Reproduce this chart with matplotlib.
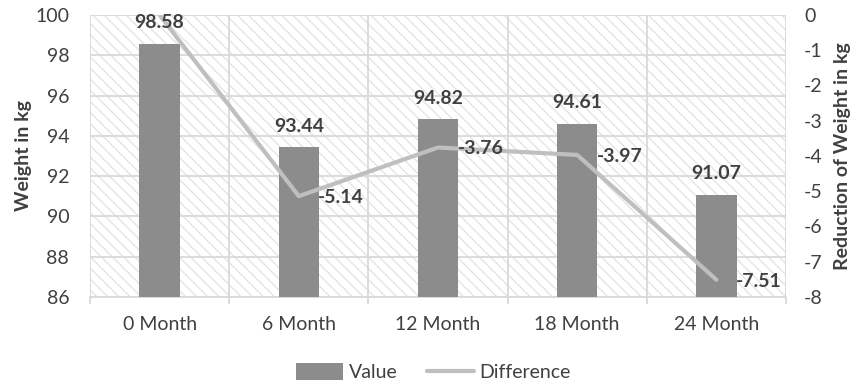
import matplotlib
matplotlib.use('Agg')
import matplotlib.pyplot as plt
import numpy as np

# weight at each check-up and change relative to the start
months = ['0 Month', '6 Month', '12 Month', '18 Month', '24 Month']
weight = [98.58, 93.44, 94.82, 94.61, 91.07]
difference = [0, -5.14, -3.76, -3.97, -7.51]

plt.rcParams['font.family'] = ['Lato', 'DejaVu Sans']
plt.rcParams['hatch.linewidth'] = 0.9
plt.rcParams['axes.unicode_minus'] = False

txt = '#404040'
grid = '#d9d9d9'
fs = 14

fig = plt.figure(figsize=(8.62, 3.85), dpi=100)
ax = fig.add_axes([0.1044, 0.2286, 0.8074, 0.7325])
ax2 = ax.twinx()

x = np.arange(len(months))

# hatched plot area
ax.patch.set_facecolor('white')
ax.patch.set_hatch('\\\\\\')
ax.patch.set_edgecolor('#e2e2e2')

bars = ax.bar(x, weight, width=0.29, color='#8c8c8c', zorder=3, label='Value')
ax.set_ylim(86, 100)
ax.set_yticks(np.arange(86, 101, 2))
ax.set_xlim(-0.5, len(months) - 0.5)
ax.set_xticks(x)
ax.set_xticklabels(months)
ax.set_xticks(np.arange(-0.5, len(months), 1), minor=True)
ax.grid(True, which='major', axis='y', color=grid, lw=1.3, zorder=1)
ax.grid(True, which='minor', axis='x', color=grid, lw=1.3, zorder=1)
ax.tick_params(axis='x', which='major', length=0, pad=14, labelsize=fs, labelcolor=txt)
ax.tick_params(axis='x', which='minor', length=5, color=grid, width=1.3)
ax.tick_params(axis='y', length=0, pad=15, labelsize=fs, labelcolor=txt)
for s in ['left', 'right', 'top']:
    ax.spines[s].set_visible(False)
ax.spines['bottom'].set_color(grid)
ax.spines['bottom'].set_linewidth(1.3)
ax.set_ylabel('Weight in kg', fontsize=fs, fontweight='bold', color=txt, labelpad=2)

line, = ax2.plot(x, difference, color='#bfbfbf', lw=3, solid_capstyle='round',
                 zorder=2, label='Difference')
ax2.set_ylim(-8, 0)
ax2.set_yticks(np.arange(-8, 1, 1))
ax2.tick_params(axis='y', length=0, pad=13, labelsize=fs, labelcolor=txt)
for s in ax2.spines.values():
    s.set_visible(False)
ax2.set_ylabel('Reduction of Weight in kg', fontsize=fs, fontweight='bold',
               color=txt, labelpad=8)

# value labels sit above the line
for xi, v in zip(x, weight):
    ax2.annotate(f'{v:.2f}', (xi, v), xycoords=ax.transData, xytext=(0, 9),
                 textcoords='offset points', ha='center', va='bottom',
                 fontsize=fs, fontweight='bold', color=txt, zorder=5)

for xi, d in zip(x[1:], difference[1:]):
    ax2.annotate(f'{d:.2f}', (xi, d), xytext=(14, -1), textcoords='offset points',
                 ha='left', va='center', fontsize=fs, fontweight='bold',
                 color=txt, zorder=5)

fig.legend([bars, line], ['Value', 'Difference'], loc='center',
           bbox_to_anchor=(0.503, 0.033), ncol=2, frameon=False, fontsize=fs,
           labelcolor=txt, handlelength=2.4, handleheight=0.9,
           columnspacing=1.5, handletextpad=0.3)

fig.savefig('out.png', dpi=100)
